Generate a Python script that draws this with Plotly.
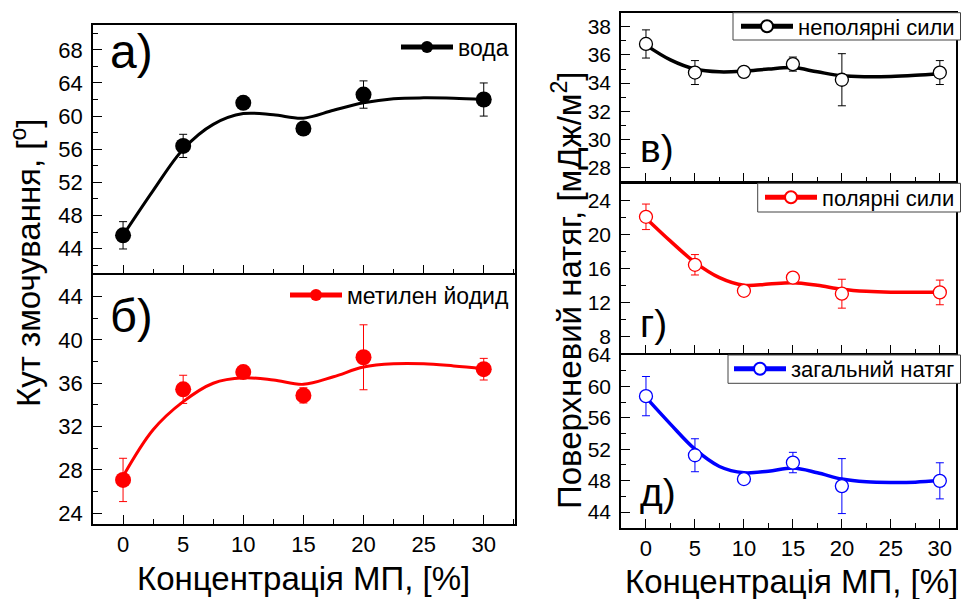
import plotly.graph_objects as go

# ---------------- data ----------------
conc = [0, 5, 10, 15, 20, 30]
fit_x = [0, 2.5, 5, 7.5, 10, 12.5, 15, 17.5, 20, 22.5, 25, 27.5, 30]

water = [45.6, 56.4, 61.6, 58.5, 62.6, 62.0]
water_err = [1.65, 1.4, 0.5, 0.5, 1.65, 2.0]
water_fit = [45.6, 51.0, 56.0, 59.0, 60.3, 60.15, 59.75, 60.7, 61.6, 62.1, 62.2, 62.15, 62.0]

mi = [27.07, 35.44, 37.03, 34.88, 38.4, 37.3]
mi_err = [2.0, 1.3, 0.5, 0.7, 3.0, 1.0]
mi_fit = [27.4, 31.7, 34.3, 36.0, 36.5, 36.3, 35.9, 36.6, 37.5, 37.8, 37.8, 37.6, 37.35]

nonpolar = [36.78, 34.75, 34.8, 35.35, 34.24, 34.75]
nonpolar_err = [1.0, 0.85, 0.2, 0.5, 1.85, 0.85]
nonpolar_fit = [36.7, 35.65, 35.0, 34.8, 34.85, 35.0, 35.1, 34.8, 34.52, 34.45, 34.47, 34.55, 34.66]

polar = [22.06, 16.42, 13.36, 14.92, 13.02, 13.17]
polar_err = [1.5, 1.2, 0.6, 0.5, 1.7, 1.45]
polar_fit = [21.9, 19.2, 16.7, 14.9, 14.0, 14.15, 14.3, 14.0, 13.55, 13.3, 13.2, 13.2, 13.2]

total = [58.76, 51.23, 48.2, 50.3, 47.3, 47.97]
total_err = [2.5, 2.1, 0.6, 1.3, 3.5, 2.3]
total_fit = [58.6, 55.2, 52.0, 49.8, 49.0, 49.2, 49.6, 49.0, 48.2, 47.85, 47.76, 47.8, 48.0]

x_ticks = [0, 5, 10, 15, 20, 25, 30]

FONT = "Liberation Sans, Arial, sans-serif"
W, H = 966, 599
LW = 1.6  # axis line width

def px_x(p):
    return p / W

def px_y(p):
    return 1 - p / H

fig = go.Figure()

panels = [
    (water, water_err, water_fit, "black", True, "вода", 1),
    (mi, mi_err, mi_fit, "#ff0000", True, "метилен йодид", 2),
    (nonpolar, nonpolar_err, nonpolar_fit, "black", False, "неполярні сили", 3),
    (polar, polar_err, polar_fit, "#ff0000", False, "полярні сили", 4),
    (total, total_err, total_fit, "#0000ff", False, "загальний натяг", 5),
]

for (yv, ye, yf, col, filled, name, i) in panels:
    xa = "x" if i == 1 else f"x{i}"
    ya = "y" if i == 1 else f"y{i}"
    lg = "legend" if i == 1 else f"legend{i}"
    lw = 3 if filled else 3.5
    msize = 16 if filled else 13
    mk = dict(size=msize, color=col, line=dict(width=0, color=col)) if filled else \
        dict(size=msize, color="white", line=dict(width=1.3, color=col))
    fig.add_trace(go.Scatter(x=fit_x, y=yf, mode="lines",
                             line=dict(color=col, width=lw, shape="spline", smoothing=1.0),
                             xaxis=xa, yaxis=ya, showlegend=False, hoverinfo="skip"))
    fig.add_trace(go.Scatter(x=conc, y=yv, mode="markers", marker=mk,
                             error_y=dict(type="data", array=ye, visible=True, color=col, thickness=1, width=4),
                             xaxis=xa, yaxis=ya, showlegend=False))
    fig.add_trace(go.Scatter(x=[None], y=[None], mode="lines+markers", name=name,
                             line=dict(color=col, width=lw), marker=mk,
                             xaxis=xa, yaxis=ya, showlegend=True, legend=lg))

left_x = [px_x(93), px_x(515)]
right_x = [px_x(621), px_x(955.5)]
doms = {
    1: (left_x, [px_y(275 - LW), px_y(25)], [41, 71], 4, 2, False),
    2: (left_x, [px_y(524), px_y(275)], [23, 46], 4, 2, True),
    3: (right_x, [px_y(183.3 - LW), px_y(12.7)], [27, 39], 2, 1, False),
    4: (right_x, [px_y(355 - LW), px_y(183.3)], [6, 26], 4, 2, False),
    5: (right_x, [px_y(527.7), px_y(355)], [42, 64], 4, 2, True),
}

layout = dict(
    template="none",
    width=W, height=H, margin=dict(l=0, r=0, t=0, b=0, pad=0, autoexpand=False),
    paper_bgcolor="white", plot_bgcolor="white",
    font=dict(family=FONT, color="black", size=20),
)

for i, (xd, yd, yr, ydt, ymin, showx) in doms.items():
    xk = "xaxis" if i == 1 else f"xaxis{i}"
    yk = "yaxis" if i == 1 else f"yaxis{i}"
    xrng = [-2.5, 32.6] if i <= 2 else [-2.55, 31.6]
    layout[xk] = dict(
        domain=xd, range=xrng, anchor="y" if i == 1 else f"y{i}", automargin=False,
        tickvals=x_ticks, ticktext=[str(v) for v in x_ticks],
        showticklabels=showx, ticks="inside", ticklen=9, tickwidth=1.3, tickcolor="black",
        minor=dict(ticks="inside", ticklen=5, tickwidth=1.3, dtick=2.5, tick0=0, tickcolor="black"),
        showline=True, linecolor="black", linewidth=LW, mirror=True,
        showgrid=False, zeroline=False, tickfont=dict(size=22, family=FONT),
    )
    layout[yk] = dict(
        domain=yd, range=yr, anchor="x" if i == 1 else f"x{i}", automargin=False,
        dtick=ydt, tick0=0, ticks="inside", ticklen=9, tickwidth=1.3, tickcolor="black",
        minor=dict(ticks="inside", ticklen=5, tickwidth=1.3, dtick=ymin, tick0=0, tickcolor="black"),
        showline=True, linecolor="black", linewidth=LW, mirror=True, ticklabelstandoff=4,
        showgrid=False, zeroline=False, tickfont=dict(size=22 if i <= 2 else 21, family=FONT),
    )

leg_common = dict(xanchor="right", yanchor="middle", itemsizing="constant", itemwidth=52, tracegroupgap=0,
                  bgcolor="rgba(255,255,255,0)", borderwidth=0)
layout["legend"] = dict(leg_common, x=px_x(514), y=px_y(47), font=dict(size=23, family=FONT))
layout["legend2"] = dict(leg_common, x=px_x(514), y=px_y(295), font=dict(size=23, family=FONT))
layout["legend3"] = dict(leg_common, x=px_x(960), y=px_y(26.5), font=dict(size=22, family=FONT))
layout["legend4"] = dict(leg_common, x=px_x(960), y=px_y(197.5), font=dict(size=22, family=FONT))
layout["legend5"] = dict(leg_common, x=px_x(960), y=px_y(369), font=dict(size=22, family=FONT))

# legend frames of the right-hand panels
frames = [(733, 12.7, 960.5, 40), (757.7, 183.3, 960.5, 212), (728, 355, 960.5, 383.3)]
shapes = []
for (x0, y0, x1, y1) in frames:
    shapes.append(dict(type="rect", xref="paper", yref="paper", x0=px_x(x0), x1=px_x(x1),
                       y0=px_y(y1), y1=px_y(y0), line=dict(color="#444444", width=1),
                       fillcolor="white", layer="above"))
layout["shapes"] = shapes

ann = []
def add_text(text, xp, yp, size, angle=0, xanchor="center"):
    ann.append(dict(text=text, x=px_x(xp), y=px_y(yp), xref="paper", yref="paper", showarrow=False,
                    font=dict(size=size, family=FONT, color="black"), textangle=angle,
                    xanchor=xanchor, yanchor="middle"))

add_text("а)", 108, 52, 48, xanchor="left")
add_text("б)", 108, 315, 47, xanchor="left")
add_text("в)", 638, 148, 39, xanchor="left")
add_text("г)", 638, 324, 39, xanchor="left")
add_text("д)", 638, 492, 39, xanchor="left")

add_text("Кут змочування, [<sup>o</sup>]", 26, 263, 33, angle=-90)
add_text("Поверхневий натяг, [мДж/м<sup>2</sup>]", 567, 290, 33, angle=-90)
add_text("Концентрація МП, [%]", 303, 578, 33)
add_text("Концентрація МП, [%]", 791, 581, 33)
layout["annotations"] = ann

fig.update_layout(**layout)
fig.write_html("out.html")
